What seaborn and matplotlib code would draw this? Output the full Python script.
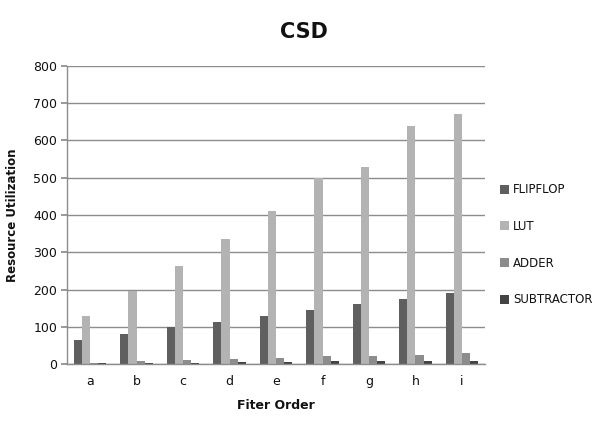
import matplotlib
matplotlib.use("Agg")
import matplotlib.pyplot as plt
import seaborn as sns
import pandas as pd

categories = ["a", "b", "c", "d", "e", "f", "g", "h", "i"]
flipflop = [65, 80, 100, 113, 130, 144, 162, 176, 191]
lut = [130, 195, 263, 335, 412, 500, 530, 638, 670]
adder = [4, 8, 12, 15, 16, 22, 22, 25, 30]
subtractor = [4, 4, 4, 5, 5, 8, 8, 8, 8]
series_names = ["FLIPFLOP", "LUT", "ADDER", "SUBTRACTOR"]
colors = ["#5f5f5f", "#b3b3b3", "#8c8c8c", "#434343"]

rows = []
for name, vals in zip(series_names, [flipflop, lut, adder, subtractor]):
    for c, v in zip(categories, vals):
        rows.append({"order": c, "series": name, "value": v})
df = pd.DataFrame(rows)

sns.set_theme(style="white")
plt.rcParams["font.family"] = ["DejaVu Sans"]
plt.rcParams["text.color"] = "#111111"
plt.rcParams["axes.labelcolor"] = "#111111"
plt.rcParams["xtick.color"] = "#111111"
plt.rcParams["ytick.color"] = "#111111"

fig = plt.figure(figsize=(6.02, 4.22), dpi=100)
ax = fig.add_axes([0.111, 0.137, 0.695, 0.707])

sns.barplot(data=df, x="order", y="value", hue="series", order=categories,
            hue_order=series_names, palette=colors, width=0.7, gap=0,
            saturation=1, linewidth=0, ax=ax, legend=True)

ax.set_ylim(0, 800)
ax.set_yticks(range(0, 801, 100))
ax.yaxis.grid(True, color="#8c8c8c", linewidth=1)
ax.set_axisbelow(True)
for s in ["top", "right"]:
    ax.spines[s].set_visible(False)
for s in ["left", "bottom"]:
    ax.spines[s].set_color("#8c8c8c")
    ax.spines[s].set_linewidth(1)
ax.tick_params(axis="y", which="major", length=4, color="#8c8c8c",
               labelsize=9, pad=3, left=True)
ax.tick_params(axis="x", length=0, labelsize=9, pad=8)

ax.set_xlabel("Fiter Order", fontsize=9, fontweight="bold", labelpad=8)
ax.set_ylabel("Resource Utilization", fontsize=8.5, fontweight="bold", labelpad=10)
fig.text(0.505, 0.925, "CSD", ha="center", va="center", fontsize=15,
         fontweight="bold")

handles, labels = ax.get_legend_handles_labels()
ax.legend(handles, labels, loc="center left", bbox_to_anchor=(1.01, 0.40),
          frameon=False, fontsize=8.5, handlelength=0.8, handleheight=0.8,
          handletextpad=0.3, labelspacing=2.0)

fig.savefig("out.png", dpi=100)
